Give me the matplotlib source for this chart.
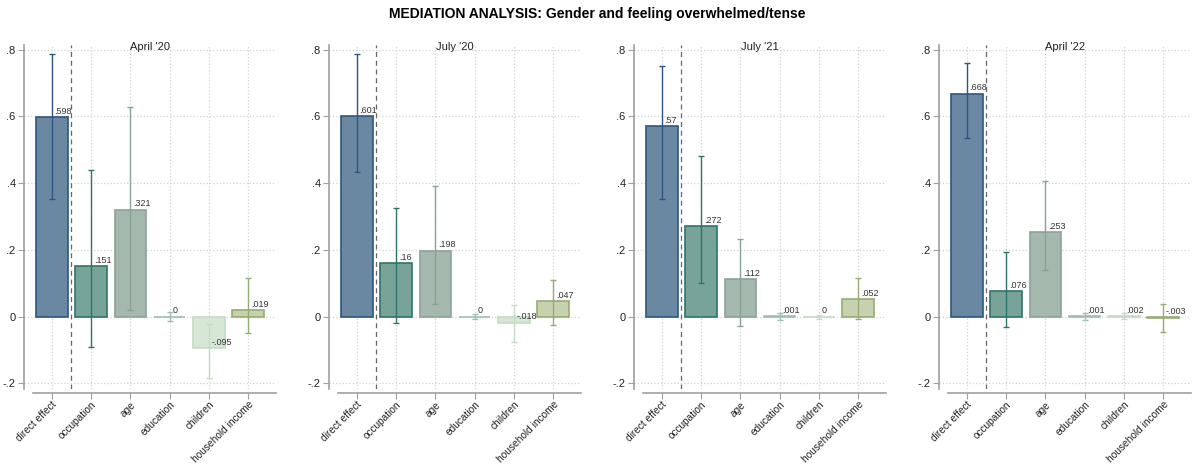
import matplotlib.pyplot as plt
import numpy as np

categories = ['direct effect', 'occupation', 'age', 'education', 'children', 'household income']
waves = ["April '20", "July '20", "July '21", "April '22"]

# point estimates per wave
est_apr20 = [0.598, 0.151, 0.321, 0.0, -0.095, 0.019]
est_jul20 = [0.601, 0.16, 0.198, 0.0, -0.018, 0.047]
est_jul21 = [0.57, 0.272, 0.112, 0.001, 0.0, 0.052]
est_apr22 = [0.668, 0.076, 0.253, 0.001, 0.002, -0.003]

# 95% confidence bounds
lo_apr20 = [0.352, -0.090, 0.020, -0.014, -0.185, -0.048]
hi_apr20 = [0.786, 0.440, 0.627, 0.013, -0.022, 0.116]
lo_jul20 = [0.433, -0.020, 0.037, -0.008, -0.076, -0.026]
hi_jul20 = [0.786, 0.326, 0.392, 0.008, 0.036, 0.109]
lo_jul21 = [0.352, 0.101, -0.027, -0.010, -0.006, -0.008]
hi_jul21 = [0.750, 0.482, 0.233, 0.012, 0.006, 0.116]
lo_apr22 = [0.534, -0.031, 0.140, -0.011, -0.006, -0.045]
hi_apr22 = [0.759, 0.195, 0.406, 0.011, 0.010, 0.037]

estimates = [est_apr20, est_jul20, est_jul21, est_apr22]
lows = [lo_apr20, lo_jul20, lo_jul21, lo_apr22]
highs = [hi_apr20, hi_jul20, hi_jul21, hi_apr22]

fills = ['#6b88a3', '#78a399', '#a4b8ae', '#cfe2da', '#d6e8d5', '#c6d2af']
edges = ['#2d5680', '#2f746a', '#8aa398', '#9dc0b3', '#c3dcc3', '#97ab74']

plt.rcParams['font.family'] = ['Liberation Sans', 'DejaVu Sans']

fig = plt.figure(figsize=(11.94, 4.66), dpi=100)
fig.suptitle('MEDIATION ANALYSIS: Gender and feeling overwhelmed/tense',
             fontsize=10, fontweight='bold', y=0.985)

x = np.arange(1, len(categories) + 1)
left0, step, width = 24 / 1194, 305 / 1194, 252 / 1194
bottom, height = 1 - 388.5 / 466, (388.5 - 44.7) / 466

for i, wave in enumerate(waves):
    ax = fig.add_axes([left0 + i * step, bottom, width, height])
    est = np.array(estimates[i])
    lo = np.array(lows[i])
    hi = np.array(highs[i])

    # spine placement first: set_position resets the tick objects
    for s in ['top', 'right']:
        ax.spines[s].set_visible(False)
    ax.spines['bottom'].set_position(('outward', 3))
    ax.spines['left'].set_color('#a0a0a0')
    ax.spines['bottom'].set_color('#a0a0a0')
    ax.spines['left'].set_linewidth(1.2)
    ax.spines['bottom'].set_linewidth(1.2)

    ax.bar(x, est, width=0.8, color=fills, edgecolor=edges, linewidth=1.2, zorder=2)
    for j in range(len(x)):
        ax.errorbar(x[j], est[j], yerr=[[est[j] - lo[j]], [hi[j] - est[j]]],
                    fmt='none', ecolor=edges[j], elinewidth=1.0, capsize=2.5,
                    capthick=1.0, zorder=3)
        lbl = ('%.3f' % est[j]).rstrip('0').rstrip('.')
        lbl = lbl.replace('0.', '.') if lbl != '0' else '0'
        ax.text(x[j] + 0.07, est[j] + 0.004, lbl, fontsize=6.5, color='#333333',
                ha='left', va='bottom', zorder=4)

    ax.axvline(1.5, color='#666666', linestyle=(0, (4, 3)), linewidth=0.9, zorder=1)

    ax.set_xlim(0.29, 6.71)
    ax.set_ylim(-0.215, 0.815)
    ax.set_yticks([-0.2, 0, 0.2, 0.4, 0.6, 0.8])
    ax.set_yticklabels(['-.2', '0', '.2', '.4', '.6', '.8'], fontsize=8)
    ax.set_xticks(x)
    ax.set_xticklabels(categories, rotation=45, ha='right', rotation_mode='anchor',
                       fontsize=7.3)
    ax.spines['bottom'].set_bounds(0.52, 6.71)
    ax.grid(True, linestyle=':', color='#d2d2d2', linewidth=0.9, zorder=0)
    ax.set_axisbelow(True)
    ax.tick_params(axis='both', color='#a0a0a0', length=4, pad=2, labelcolor='#222222')
    ax.tick_params(axis='x', pad=1)

    ax.text(0.5, 0.992, wave, transform=ax.transAxes, ha='center', va='center',
            fontsize=8, color='#222222')

fig.savefig('out.png', dpi=100)
